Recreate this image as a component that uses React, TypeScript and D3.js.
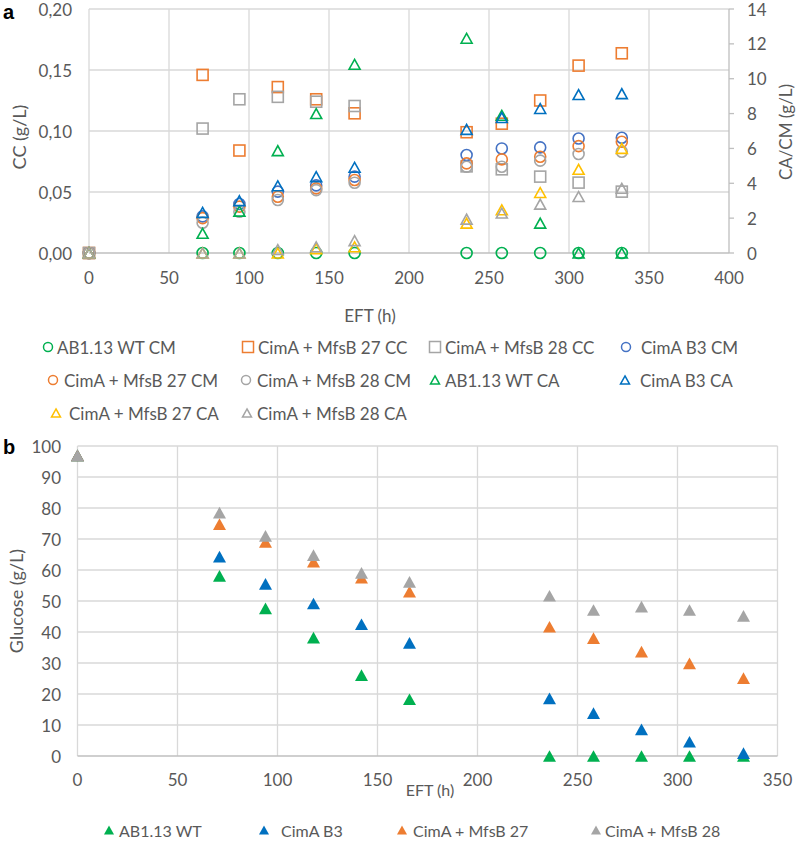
import * as d3 from 'd3'

// ---- panel a data (EFT in h) ----
const timesA = [0, 71, 94, 118, 142, 166, 236, 258, 282, 306, 333]
const wtCM = [0, 0, 0, 0, 0, 0, 0, 0, 0, 0, 0]
const mfs27CC = [0, 0.146, 0.084, 0.136, 0.126, 0.1145, 0.099, 0.106, 0.125, 0.1536, 0.1637]
const mfs28CC = [0, 0.102, 0.126, 0.128, 0.124, 0.1205, 0.071, 0.0686, 0.0626, 0.0577, 0.0503]
const b3CM = [0, 2.1, 2.81, 3.52, 3.88, 4.38, 5.62, 6.0, 6.06, 6.57, 6.61]
const mfs27CM = [0, 2.0, 2.66, 3.23, 3.71, 4.19, 5.14, 5.37, 5.52, 6.13, 6.38]
const mfs28CM = [0, 1.74, 2.37, 3.04, 3.61, 4.03, 4.95, 4.95, 5.3, 5.68, 5.81]
const wtCA = [0, 1.13, 2.4, 5.87, 8.0, 10.83, 12.32, 7.9, 1.71, 0, 0]
const b3CA = [0, 2.33, 3.0, 3.86, 4.38, 4.92, 7.09, 7.77, 8.29, 9.09, 9.14]
const mfs27CA = [0, 0, 0, 0, 0.25, 0.36, 1.71, 2.48, 3.47, 4.8, 6.0]
const mfs28CA = [0, 0, 0, 0.2, 0.36, 0.71, 1.94, 2.29, 2.8, 3.24, 3.71]

const ccTicks = [0, 0.05, 0.1, 0.15, 0.2]
const caTicks = [0, 2, 4, 6, 8, 10, 12, 14]
const eftTicksA = [0, 50, 100, 150, 200, 250, 300, 350, 400]

// ---- panel b data ----
const timesB = [0, 71, 94, 118, 142, 166, 236, 258, 282, 306, 333]
const glcWT = [97, 58.1, 47.6, 38.2, 26.1, 18.3, 0, 0, 0, 0, 0]
const glcB3 = [97, 64.3, 55.5, 49.2, 42.5, 36.5, 18.6, 13.8, 8.6, 4.6, 0.9]
const glc27 = [97, 74.8, 69.1, 62.7, 57.5, 53.0, 41.7, 38.0, 33.7, 29.9, 25.1]
const glc28 = [97, 78.5, 71.0, 64.8, 59.1, 56.2, 51.7, 47.1, 48.2, 47.1, 45.2]

const glcTicks = [0, 10, 20, 30, 40, 50, 60, 70, 80, 90, 100]
const eftTicksB = [0, 50, 100, 150, 200, 250, 300, 350]

const FONT = 'Lato, "Open Sans", sans-serif'
const TEXT = '#595959'
const GRID = '#D9D9D9'
const AXIS = '#BFBFBF'

const GREEN = '#00B050'
const ORANGE = '#ED7D31'
const GRAY = '#A5A5A5'
const BLUE = '#4472C4'
const DBLUE = '#0070C0'
const YELLOW = '#FFC000'

type Shape = 'circle' | 'square' | 'triangle'

type SeriesA = {
  name: string
  values: number[]
  axis: 'left' | 'right'
  shape: Shape
  color: string
}

const seriesA: SeriesA[] = [
  { name: 'AB1.13 WT CM', values: wtCM, axis: 'right', shape: 'circle', color: GREEN },
  { name: 'CimA + MfsB 27 CC', values: mfs27CC, axis: 'left', shape: 'square', color: ORANGE },
  { name: 'CimA + MfsB 28 CC', values: mfs28CC, axis: 'left', shape: 'square', color: GRAY },
  { name: 'CimA B3 CM', values: b3CM, axis: 'right', shape: 'circle', color: BLUE },
  { name: 'CimA + MfsB 27 CM', values: mfs27CM, axis: 'right', shape: 'circle', color: ORANGE },
  { name: 'CimA + MfsB 28 CM', values: mfs28CM, axis: 'right', shape: 'circle', color: GRAY },
  { name: 'AB1.13 WT CA', values: wtCA, axis: 'right', shape: 'triangle', color: GREEN },
  { name: 'CimA B3 CA', values: b3CA, axis: 'right', shape: 'triangle', color: DBLUE },
  { name: 'CimA + MfsB 27 CA', values: mfs27CA, axis: 'right', shape: 'triangle', color: YELLOW },
  { name: 'CimA + MfsB 28 CA', values: mfs28CA, axis: 'right', shape: 'triangle', color: GRAY }
]

// legend layout for panel a: [markerX, textX, rowY]
const legendPosA: [number, number, number][] = [
  [48, 57, 347], [248, 258, 347], [435, 445, 347], [626, 641, 347],
  [53, 64, 380], [246, 257, 380], [435, 445, 380], [625, 640, 380],
  [56, 69, 413], [247, 257, 413]
]

const seriesB = [
  { name: 'AB1.13 WT', values: glcWT, color: GREEN },
  { name: 'CimA B3', values: glcB3, color: DBLUE },
  { name: 'CimA + MfsB 27', values: glc27, color: ORANGE },
  { name: 'CimA + MfsB 28', values: glc28, color: GRAY }
]
const legendPosB: [number, number][] = [[109, 119], [264, 281], [402, 413], [596, 605]]

function Marker({ shape, x, y, size, color, filled = false, sw = 1.6 }: {
  shape: Shape; x: number; y: number; size: number; color: string; filled?: boolean; sw?: number
}) {
  const h = size / 2
  const fill = filled ? color : 'none'
  if (shape === 'circle') {
    return <circle cx={x} cy={y} r={h} fill={fill} stroke={color} strokeWidth={sw} />
  }
  if (shape === 'square') {
    return <rect x={x - h} y={y - h} width={size} height={size} fill={fill} stroke={color} strokeWidth={sw} />
  }
  const hh = h * 0.9
  const p = d3.path()
  p.moveTo(x, y - hh)
  p.lineTo(x + h, y + hh)
  p.lineTo(x - h, y + hh)
  p.closePath()
  return <path d={p.toString()} fill={fill} stroke={filled ? 'none' : color} strokeWidth={sw} strokeLinejoin="miter" />
}

const fmtComma = (v: number) => d3.format('.2f')(v).replace('.', ',')

function PanelA() {
  const x = d3.scaleLinear().domain([0, 400]).range([89, 729])
  const yL = d3.scaleLinear().domain([0, 0.2]).range([253, 9])
  const yR = d3.scaleLinear().domain([0, 14]).range([253, 9])

  return (
    <g fontFamily={FONT} fill={TEXT}>
      {ccTicks.filter(t => t > 0).map(t => (
        <line key={'h' + t} x1={x(0)} x2={x(400)} y1={yL(t)} y2={yL(t)} stroke={GRID} strokeWidth={1.3} />
      ))}
      {eftTicksA.filter(t => t < 400).map(t => (
        <line key={'v' + t} x1={x(t)} x2={x(t)} y1={yL(0)} y2={yL(0.2)} stroke={GRID} strokeWidth={1.3} />
      ))}
      <line x1={x(0)} x2={x(400)} y1={yL(0)} y2={yL(0)} stroke={AXIS} strokeWidth={1.3} />
      <line x1={x(400)} x2={x(400)} y1={yR(0)} y2={yR(14)} stroke={AXIS} strokeWidth={1.3} />
      {caTicks.map(t => (
        <line key={'rt' + t} x1={x(400)} x2={x(400) + 5} y1={yR(t)} y2={yR(t)} stroke={AXIS} strokeWidth={1.3} />
      ))}

      {ccTicks.map(t => (
        <text key={'lt' + t} x={72} y={yL(t)} textAnchor="end" dominantBaseline="central" fontSize={17}>{fmtComma(t)}</text>
      ))}
      {caTicks.map(t => (
        <text key={'rl' + t} x={747} y={yR(t)} textAnchor="start" dominantBaseline="central" fontSize={17}>{t}</text>
      ))}
      {eftTicksA.map(t => (
        <text key={'xl' + t} x={x(t)} y={277} textAnchor="middle" dominantBaseline="central" fontSize={17}>{t}</text>
      ))}

      <text transform="translate(19,137) rotate(-90)" textAnchor="middle" dominantBaseline="central" fontSize={18}>CC (g/L)</text>
      <text transform="translate(785,132) rotate(-90)" textAnchor="middle" dominantBaseline="central" fontSize={17}>CA/CM (g/L)</text>
      <text x={370} y={315} textAnchor="middle" dominantBaseline="central" fontSize={17}>EFT (h)</text>
      <text x={3} y={19} fontFamily='"Liberation Sans", Arial, sans-serif' fontWeight="bold" fontSize={20} fill="#000">a</text>

      {seriesA.map(s => (
        <g key={s.name}>
          {s.values.map((v, i) => (
            <Marker key={i} shape={s.shape} x={x(timesA[i])} y={s.axis === 'left' ? yL(v) : yR(v)} size={11} color={s.color} />
          ))}
        </g>
      ))}

      {seriesA.map((s, i) => {
        const [mx, tx, ty] = legendPosA[i]
        return (
          <g key={'lg' + s.name}>
            <Marker shape={s.shape} x={mx} y={ty} size={s.shape === 'square' ? 11 : 9} color={s.color} sw={1.5} />
            <text x={tx} y={ty} dominantBaseline="central" fontSize={17}>{s.name}</text>
          </g>
        )
      })}
    </g>
  )
}

function PanelB() {
  const x = d3.scaleLinear().domain([0, 350]).range([77.5, 777.5])
  const y = d3.scaleLinear().domain([0, 100]).range([756, 446])

  return (
    <g fontFamily={FONT} fill={TEXT}>
      {glcTicks.filter(t => t > 0).map(t => (
        <line key={'h' + t} x1={x(0)} x2={x(350)} y1={y(t)} y2={y(t)} stroke={GRID} strokeWidth={1.3} />
      ))}
      {eftTicksB.map(t => (
        <line key={'v' + t} x1={x(t)} x2={x(t)} y1={y(0)} y2={y(100)} stroke={GRID} strokeWidth={1.3} />
      ))}
      <line x1={x(0)} x2={x(350)} y1={y(0)} y2={y(0)} stroke={AXIS} strokeWidth={1.3} />

      {glcTicks.map(t => (
        <text key={'yl' + t} x={61} y={y(t)} textAnchor="end" dominantBaseline="central" fontSize={17}>{t}</text>
      ))}
      {eftTicksB.map(t => (
        <text key={'xl' + t} x={x(t)} y={779} textAnchor="middle" dominantBaseline="central" fontSize={17}>{t}</text>
      ))}
      <text transform="translate(16,601) rotate(-90)" textAnchor="middle" dominantBaseline="central" fontSize={18}>Glucose (g/L)</text>
      <text x={430} y={789} textAnchor="middle" dominantBaseline="central" fontSize={16}>EFT (h)</text>
      <text x={3} y={454} fontFamily='"Liberation Sans", Arial, sans-serif' fontWeight="bold" fontSize={20} fill="#000">b</text>

      {seriesB.map(s => (
        <g key={s.name}>
          {s.values.map((v, i) => (
            <Marker key={i} shape="triangle" x={x(timesB[i])} y={y(v)} size={13} color={s.color} filled />
          ))}
        </g>
      ))}

      {seriesB.map((s, i) => {
        const [mx, tx] = legendPosB[i]
        return (
          <g key={'lg' + s.name}>
            <Marker shape="triangle" x={mx} y={830} size={10} color={s.color} filled />
            <text x={tx} y={830} dominantBaseline="central" fontSize={16}>{s.name}</text>
          </g>
        )
      })}
    </g>
  )
}

export default function App() {
  return (
    <svg width={797} height={841} style={{ position: 'absolute', left: 0, top: 0, background: '#fff' }}>
      <rect width={797} height={841} fill="#fff" />
      <PanelA />
      <PanelB />
    </svg>
  )
}
